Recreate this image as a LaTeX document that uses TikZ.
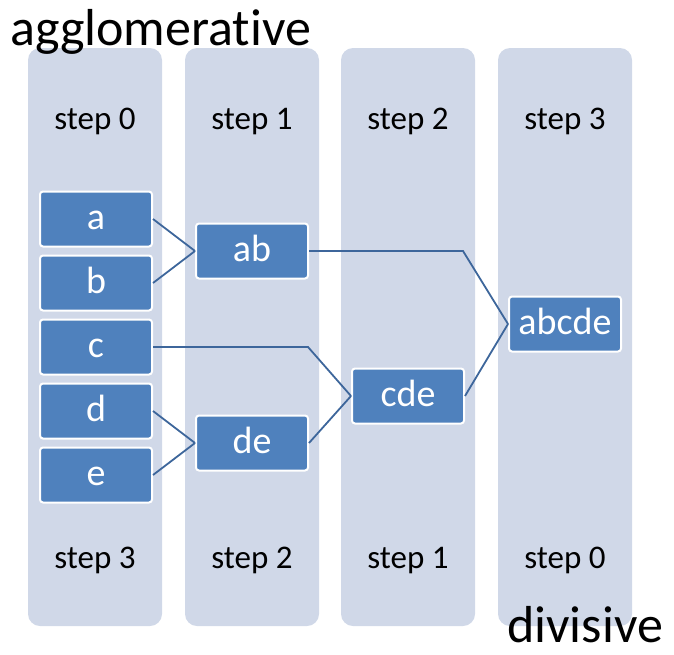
\documentclass[tikz,border=0pt]{standalone}
\usepackage{fontspec}
\setmainfont{Carlito}[Ligatures={NoCommon}]
\definecolor{colfill}{HTML}{D0D8E8}
\definecolor{boxfill}{HTML}{4F81BD}
\definecolor{linkcol}{HTML}{3D669B}
\begin{document}
\begin{tikzpicture}[x=1pt,y=-1pt,
  column/.style={fill=colfill,rounded corners=12pt},
  item/.style={rectangle,fill=boxfill,draw=white,line width=2pt,rounded corners=3pt,
    minimum width=112pt,minimum height=55pt,inner sep=0pt,text=white,
    text height=26pt,text depth=6pt,font=\fontsize{38}{44}\selectfont},
  steplabel/.style={anchor=base,inner sep=0pt,font=\fontsize{33}{38}\selectfont},
  title/.style={anchor=base west,inner sep=0pt,font=\fontsize{52}{60}\selectfont},
  link/.style={draw=linkcol,line width=1.8pt}]
\useasboundingbox (0,0) rectangle (674,654);
% columns
\fill[column] (28,48) rectangle (162,626);
\fill[column] (185,48) rectangle (319,626);
\fill[column] (341,48) rectangle (475,626);
\fill[column] (498,48) rectangle (632,626);
% step labels
\node[steplabel] (t0) at (95,129) {step 0};
\node[steplabel] (t1) at (252,129) {step 1};
\node[steplabel] (t2) at (408,129) {step 2};
\node[steplabel] (t3) at (565,129) {step 3};
\node[steplabel] (b3) at (95,568) {step 3};
\node[steplabel] (b2) at (252,568) {step 2};
\node[steplabel] (b1) at (408,568) {step 1};
\node[steplabel] (b0) at (565,568) {step 0};
% titles
\node[title] (agg) at (10,45) {agglomerat\kern0pt ive};
\node[title] (div) at (507,642) {divisive};
% items
\node[item] (a) at (96,219) {a};
\node[item] (b) at (96,283) {b};
\node[item] (c) at (96,347) {c};
\node[item] (d) at (96,411) {d};
\node[item] (e) at (96,475) {e};
\node[item] (ab) at (252,251) {ab};
\node[item] (de) at (252,443) {de};
\node[item] (cde) at (408,396) {cde};
\node[item] (abcde) at (565,324) {abcde};
% knees
\coordinate (k1) at (463,251);
\coordinate (k2) at (308,347);
% links
\draw[link] (a.east) -- (ab.west);
\draw[link] (b.east) -- (ab.west);
\draw[link] (d.east) -- (de.west);
\draw[link] (e.east) -- (de.west);
\draw[link] (ab.east) -- (ab.east -| k1) -- (abcde.west);
\draw[link] (c.east) -- (c.east -| k2) -- (cde.west);
\draw[link] (de.east) -- (cde.west);
\draw[link] (cde.east) -- (abcde.west);
\end{tikzpicture}
\end{document}
